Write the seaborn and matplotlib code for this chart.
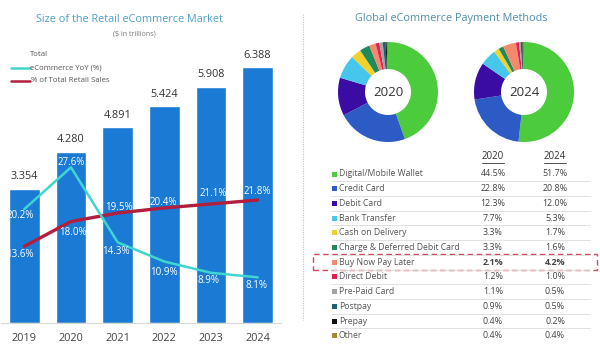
import numpy as np
import pandas as pd
import matplotlib
matplotlib.use("Agg")
import matplotlib.pyplot as plt
from matplotlib.lines import Line2D
from matplotlib.patches import Rectangle
import seaborn as sns

# ---------------- data ----------------
years = ["2019", "2020", "2021", "2022", "2023", "2024"]
total = [3.354, 4.280, 4.891, 5.424, 5.908, 6.388]
yoy = [20.2, 27.6, 14.3, 10.9, 8.9, 8.1]
share = [13.6, 18.0, 19.5, 20.4, 21.1, 21.8]

methods = ["Digital/Mobile Wallet", "Credit Card", "Debit Card", "Bank Transfer",
           "Cash on Delivery", "Charge & Deferred Debit Card", "Buy Now Pay Later",
           "Direct Debit", "Pre-Paid Card", "Postpay", "Prepay", "Other"]
pay2020 = [44.5, 22.8, 12.3, 7.7, 3.3, 3.3, 2.1, 1.2, 1.1, 0.9, 0.4, 0.4]
pay2024 = [51.7, 20.8, 12.0, 5.3, 1.7, 1.6, 4.2, 1.0, 0.5, 0.5, 0.2, 0.4]
pie_colors = ["#4ccb3c", "#2d5bc6", "#3a0ca3", "#45c6ea", "#f2d12a", "#1f8a5c",
              "#f48a6c", "#e0234f", "#a3a3a3", "#1e5f75", "#111111", "#a08c2e"]

# ---------------- style ----------------
sns.set_theme(style="white")
plt.rcParams["font.family"] = ["Open Sans", "DejaVu Sans"]

W, H = 600, 347
fig = plt.figure(figsize=(6.0, 3.47), dpi=100)

def fx(px):
    return px / W

def fy(py):
    return 1 - py / H

# ---------------- left chart ----------------
ax_left, ax_right_px, ax_top, ax_bot = 1, 281, 40, 323
ax = fig.add_axes([fx(ax_left), fy(ax_bot), fx(ax_right_px - ax_left), (ax_bot - ax_top) / H])
df = pd.DataFrame({"year": years, "total": total, "yoy": yoy, "share": share})
sns.barplot(data=df, x="year", y="total", color="#1a7ad4", width=0.66, ax=ax,
            saturation=1)
ytop = (ax_bot - ax_top) / 40.0
ax.set_ylim(0, ytop)
ax.set_xlim(-0.5, len(years) - 0.5)
ax.set_xlabel("")
ax.set_ylabel("")
ax.set_yticks([])
ax.tick_params(axis="x", length=0, pad=7, labelsize=7.8, colors="#444444")
for s in ["top", "right", "left"]:
    ax.spines[s].set_visible(False)
ax.spines["bottom"].set_color("#d8d8d8")
ax.spines["bottom"].set_linewidth(0.8)
ax.patch.set_alpha(0)

for i, v in enumerate(total):
    ax.annotate(f"{v:.3f}", (i, v), xytext=(0, 12), textcoords="offset pixels",
                ha="center", va="center", fontsize=7.8, color="#333333")

ax2 = ax.twinx()
ax2.set_ylim(0, (ax_bot - ax_top) / 5.64)
xs = np.arange(len(years))
sns.lineplot(x=xs, y=share, ax=ax2, color="#b21f3c", linewidth=2.4)
sns.lineplot(x=xs, y=yoy, ax=ax2, color="#3fd6d2", linewidth=1.8)
ax2.set_yticks([])
ax2.set_ylabel("")
for s in ax2.spines.values():
    s.set_visible(False)

yoy_off = [(-4, -6), (0, 5), (-2, -9), (0, -11), (-2, -8), (-1, -8)]
share_off = [(-4, -8), (2, -11), (1, 6), (-1, 5), (2, 10), (0, 9)]
for i, v in enumerate(yoy):
    ax2.annotate(f"{v:.1f}%", (i, v), xytext=yoy_off[i], textcoords="offset pixels",
                 ha="center", va="center", fontsize=7.0, color="white")
for i, v in enumerate(share):
    ax2.annotate(f"{v:.1f}%", (i, v), xytext=share_off[i], textcoords="offset pixels",
                 ha="center", va="center", fontsize=7.0, color="white")

# titles left
fig.text(fx(129), fy(19), "Size of the Retail eCommerce Market", ha="center", va="center",
         fontsize=7.8, color="#4f9fc4")
fig.text(fx(134), fy(34), "($ in trillions)", ha="center", va="center",
         fontsize=5, color="#777777")

# legend
fig.text(fx(30), fy(55), "Total", ha="left", va="center", fontsize=5.6, color="#555555")
fig.text(fx(30), fy(68), "eCommerce YoY (%)", ha="left", va="center", fontsize=5.6, color="#555555")
fig.text(fx(31), fy(81), "% of Total Retail Sales", ha="left", va="center", fontsize=5.6, color="#555555")
fig.add_artist(Line2D([fx(11), fx(30)], [fy(68), fy(68)], color="#3fd6d2", lw=1.8))
fig.add_artist(Line2D([fx(11), fx(30)], [fy(81), fy(81)], color="#b21f3c", lw=1.8))

# divider
fig.add_artist(Line2D([fx(303), fx(303)], [fy(14), fy(320)], color="#b8c4cc", lw=0.8,
                      linestyle=(0, (1, 1.2))))

# ---------------- right: donuts ----------------
fig.text(fx(451), fy(19), "Global eCommerce Payment Methods", ha="center", va="center",
         fontsize=7.8, color="#4f8fa8")

for cx, vals, lab in [(388, pay2020, "2020"), (524, pay2024, "2024")]:
    r = 50
    pax = fig.add_axes([fx(cx - r), fy(92 + r), fx(2 * r), 2 * r / H])
    pax.pie(vals, colors=pie_colors, startangle=90, counterclock=False,
            wedgeprops=dict(width=0.54, linewidth=0))
    pax.set_aspect("equal")
    pax.set_xlim(-1, 1)
    pax.set_ylim(-1, 1)
    pax.text(0, 0, lab, ha="center", va="center", fontsize=9.5, color="#333333")
    pax.axis("off")

# ---------------- right: table ----------------
col1, col2 = 493, 555
fig.text(fx(col1), fy(157), "2020", ha="center", va="center", fontsize=7, color="#333333")
fig.text(fx(col2), fy(157), "2024", ha="center", va="center", fontsize=7, color="#333333")
fig.add_artist(Line2D([fx(482), fx(504)], [fy(163), fy(163)], color="#333333", lw=0.6))
fig.add_artist(Line2D([fx(544), fx(566)], [fy(163), fy(163)], color="#333333", lw=0.6))

row0, dy = 174, 14.7
for i, name in enumerate(methods):
    y = row0 + i * dy
    bold = "bold" if name == "Buy Now Pay Later" else "normal"
    fig.add_artist(Rectangle((fx(332), fy(y + 2.5)), fx(5), 5 / H, color=pie_colors[i],
                             lw=0))
    fig.text(fx(339), fy(y), name, ha="left", va="center", fontsize=6.2, color="#555555")
    fig.text(fx(col1), fy(y), f"{pay2020[i]:.1f}%", ha="center", va="center",
             fontsize=6.4, color="#444444", fontweight=bold)
    fig.text(fx(col2), fy(y), f"{pay2024[i]:.1f}%", ha="center", va="center",
             fontsize=6.4, color="#444444", fontweight=bold)
    if i < len(methods) - 1:
        fig.add_artist(Line2D([fx(332), fx(590)], [fy(y + dy / 2), fy(y + dy / 2)],
                              color="#dcdcdc", lw=0.6))

# dashed highlight box
bi = methods.index("Buy Now Pay Later")
by = row0 + bi * dy
fig.add_artist(Rectangle((fx(313), fy(by + 8)), fx(597 - 313), 16 / H, fill=False,
                         edgecolor="#d24a5a", lw=1.0, linestyle=(0, (4, 2.5))))

fig.savefig("out.png", dpi=100)
